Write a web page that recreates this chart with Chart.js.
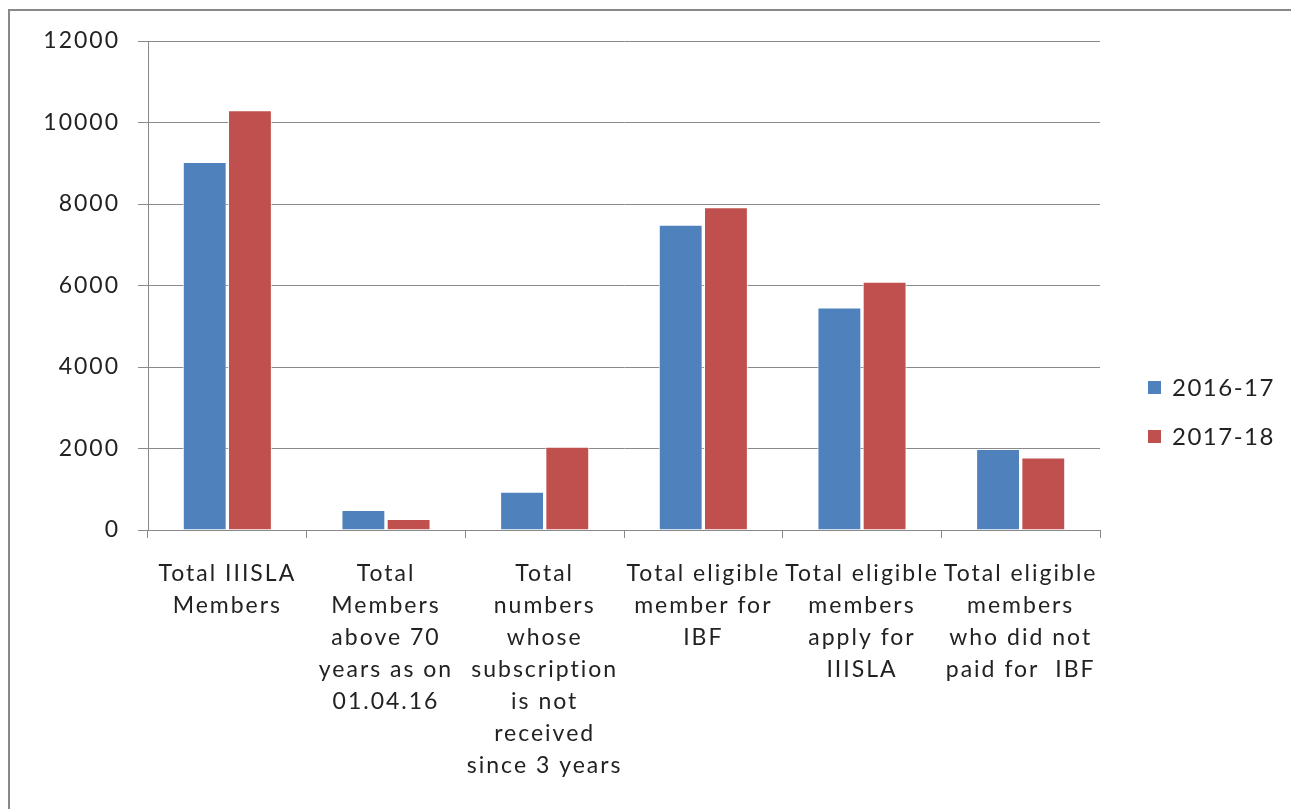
<!DOCTYPE html>
<html><head><meta charset="utf-8">
<script src="https://cdn.jsdelivr.net/npm/chart.js@4/dist/chart.umd.min.js"></script>
<style>
html,body{margin:0;padding:0;background:#fff;overflow:hidden;}
#frame{position:absolute;left:8px;top:9px;width:2000px;height:2000px;border:2px solid #888;box-sizing:border-box;}
#wrap{position:absolute;left:0;top:0;width:1291px;height:809px;}
</style></head>
<body>
<div id="frame"></div>
<div id="wrap"><canvas id="c" width="1291" height="809"></canvas></div>
<script>
const categories = [
  ["Total IIISLA", "Members"],
  ["Total", "Members", "above 70", "years as on", "01.04.16"],
  ["Total", "numbers", "whose", "subscription", "is not", "received", "since 3 years"],
  ["Total eligible", "member for", "IBF"],
  ["Total eligible", "members", "apply for", "IIISLA"],
  ["Total eligible", "members", "who did not", "paid for  IBF"]
];
const seriesNames = ["2016-17", "2017-18"];
const values2016 = [9030, 490, 940, 7490, 5460, 1990];
const values2017 = [10300, 270, 2040, 7920, 6090, 1780];
const yTicks = [0, 2000, 4000, 6000, 8000, 10000, 12000];

const FONT = "Lato, 'Open Sans', sans-serif";

const spacingPlugin = {
  id: 'spacing',
  beforeInit(chart) { chart.ctx.letterSpacing = '2px'; },
  beforeLayout(chart) { chart.ctx.letterSpacing = '2px'; },
  beforeDraw(chart) { chart.ctx.letterSpacing = '2px'; }
};

const legendPlugin = {
  id: 'sideLegend',
  afterDraw(chart) {
    const ctx = chart.ctx;
    ctx.save();
    ctx.letterSpacing = '1.5px';
    ctx.font = "24px " + FONT;
    ctx.textBaseline = 'middle';
    ctx.textAlign = 'left';
    const ys = [387, 436];
    chart.data.datasets.forEach((ds, i) => {
      ctx.fillStyle = ds.backgroundColor;
      ctx.fillRect(1148, ys[i] - 6, 13, 13);
      ctx.fillStyle = '#222';
      ctx.fillText(ds.label, 1172, ys[i] + 1);
    });
    ctx.restore();
  }
};

new Chart(document.getElementById('c'), {
  type: 'bar',
  data: {
    labels: categories,
    datasets: [
      { label: seriesNames[0], data: values2016, backgroundColor: '#4F81BD', borderColor: 'rgba(255,255,255,0.85)', borderWidth: 1 },
      { label: seriesNames[1], data: values2017, backgroundColor: '#C0504D', borderColor: 'rgba(255,255,255,0.85)', borderWidth: 1 }
    ]
  },
  options: {
    responsive: false,
    animation: false,
    devicePixelRatio: 1,
    layout: { padding: { left: 0, right: 191, top: 41, bottom: 0 } },
    datasets: { bar: { categoryPercentage: 0.57, barPercentage: 0.97 } },
    plugins: { legend: { display: false }, tooltip: { enabled: false } },
    scales: {
      x: {
        grid: { offset: true, drawOnChartArea: false, color: '#888', tickLength: 8, lineWidth: 1 },
        border: { color: '#888', width: 1 },
        ticks: { color: '#222', font: { size: 23, family: FONT, lineHeight: 1.39 }, maxRotation: 0, minRotation: 0, autoSkip: false, padding: 20 },
        afterFit(s) { s.height = 279; }
      },
      y: {
        min: 0, max: 12000,
        afterBuildTicks(s) { s.ticks = yTicks.map(v => ({ value: v })); },
        grid: { color: '#8a8a8a', tickLength: 10, lineWidth: 1 },
        border: { color: '#888', width: 1 },
        ticks: { color: '#222', font: { size: 23, family: FONT }, padding: 18, callback: v => String(v) },
        afterFit(s) { s.width = 148; }
      }
    }
  },
  plugins: [spacingPlugin, legendPlugin]
});
</script>
</body></html>
